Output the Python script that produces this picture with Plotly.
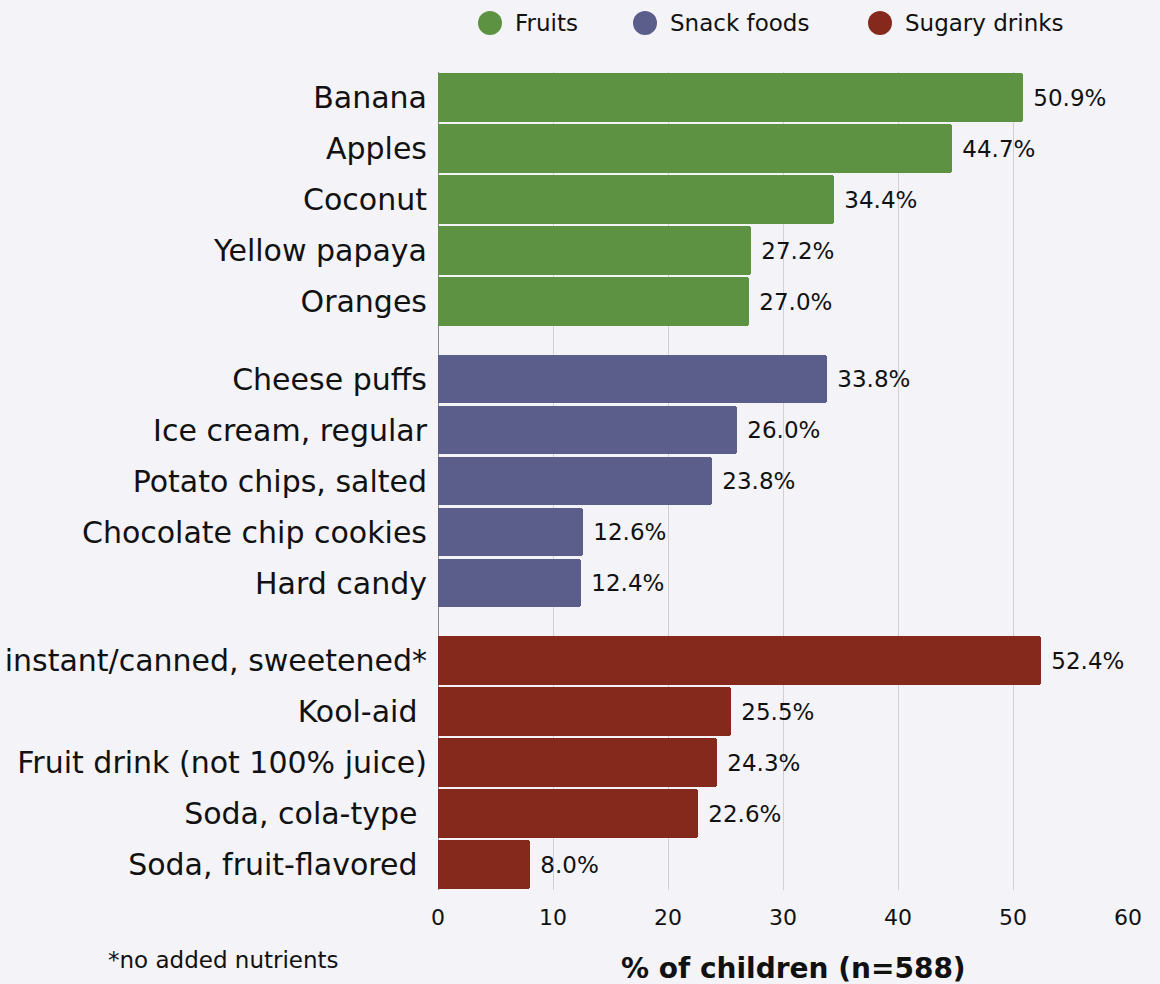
import plotly.graph_objects as go

groups = ["Fruits", "Snack foods", "Sugary drinks"]
colors = ["#5c9241", "#5b5e8a", "#85291d"]

fruit_labels = ["Banana", "Apples", "Coconut", "Yellow papaya", "Oranges"]
fruit_values = [50.9, 44.7, 34.4, 27.2, 27.0]

snack_labels = ["Cheese puffs", "Ice cream, regular", "Potato chips, salted",
                "Chocolate chip cookies", "Hard candy"]
snack_values = [33.8, 26.0, 23.8, 12.6, 12.4]

drink_labels = ["instant/canned, sweetened*", "Kool-aid ", "Fruit drink (not 100% juice)",
                "Soda, cola-type ", "Soda, fruit-flavored "]
drink_values = [52.4, 25.5, 24.3, 22.6, 8.0]

x_ticks = [0, 10, 20, 30, 40, 50, 60]

all_labels = [fruit_labels, snack_labels, drink_labels]
all_values = [fruit_values, snack_values, drink_values]

GAP = 0.52
FONT = "'DejaVu Sans', sans-serif"
TXT = "#111111"

# figure geometry (pixels)
W, H = 1160, 984
ML, MR, MT, MB = 438, 32, 72, 94
PW, PH = W - ML - MR, H - MT - MB


def px_x(x):
    return (x - ML) / PW


def px_y(y):
    return (H - MB - y) / PH


fig = go.Figure()
tickvals, ticktext = [], []
for g, (name, col, labs, vals) in enumerate(zip(groups, colors, all_labels, all_values)):
    ys = [g * (len(labs) + GAP) + i for i in range(len(labs))]
    tickvals += ys
    ticktext += labs
    fig.add_trace(go.Bar(
        x=vals, y=ys, orientation="h", name=name,
        marker=dict(color=col, line=dict(width=0), cornerradius=3),
        width=0.95,
        text=["\u00a0" + f"{v:.1f}%" for v in vals],
        textposition="outside", cliponaxis=False,
        textfont=dict(size=23, color=TXT, family=FONT),
        showlegend=False, hoverinfo="x+y",
    ))

ymax = 2 * (5 + GAP) + 4.5

# manual legend (circles + labels)
legend_circle_x = [490, 645, 880]
legend_y = 23
R = 12
shapes = []
annotations = []
for name, col, cx in zip(groups, colors, legend_circle_x):
    shapes.append(dict(type="circle", xref="paper", yref="paper",
                       x0=px_x(cx - R), x1=px_x(cx + R),
                       y0=px_y(legend_y + R), y1=px_y(legend_y - R),
                       fillcolor=col, line=dict(width=0)))
    annotations.append(dict(text=name, xref="paper", yref="paper",
                            x=px_x(cx + 23), xanchor="left",
                            y=px_y(legend_y), yanchor="middle", showarrow=False,
                            font=dict(size=23, family=FONT, color=TXT)))

annotations.append(dict(text="*no added nutrients", xref="paper", yref="paper",
                        x=px_x(106), xanchor="left",
                        y=px_y(960), yanchor="middle", showarrow=False,
                        font=dict(size=23, family=FONT, color=TXT)))
annotations.append(dict(text="<b>% of children (n=588)</b>", xref="paper", yref="paper",
                        x=px_x(793), xanchor="center",
                        y=px_y(968), yanchor="middle", showarrow=False,
                        font=dict(size=28, family=FONT, color=TXT)))

fig.update_layout(
    width=W, height=H,
    margin=dict(l=ML, r=MR, t=MT, b=MB, autoexpand=False),
    paper_bgcolor="#f3f3f8", plot_bgcolor="#f3f3f8",
    font=dict(family=FONT, color=TXT),
    bargap=0,
    showlegend=False,
    xaxis=dict(range=[0, 60], tickvals=x_ticks, showgrid=True, gridcolor="#cfcfd4",
               gridwidth=1, zeroline=True, zerolinecolor="#8a8a8a", zerolinewidth=1,
               tickfont=dict(size=22, family=FONT, color=TXT),
               ticks="outside", ticklen=8, tickcolor="rgba(0,0,0,0)"),
    yaxis=dict(range=[ymax, -0.5], tickvals=tickvals, ticktext=ticktext,
               showgrid=False, zeroline=False,
               tickfont=dict(size=30, family=FONT, color=TXT),
               ticks="outside", ticklen=4, tickcolor="rgba(0,0,0,0)"),
    shapes=shapes,
    annotations=annotations,
)

fig.write_html("out.html")
